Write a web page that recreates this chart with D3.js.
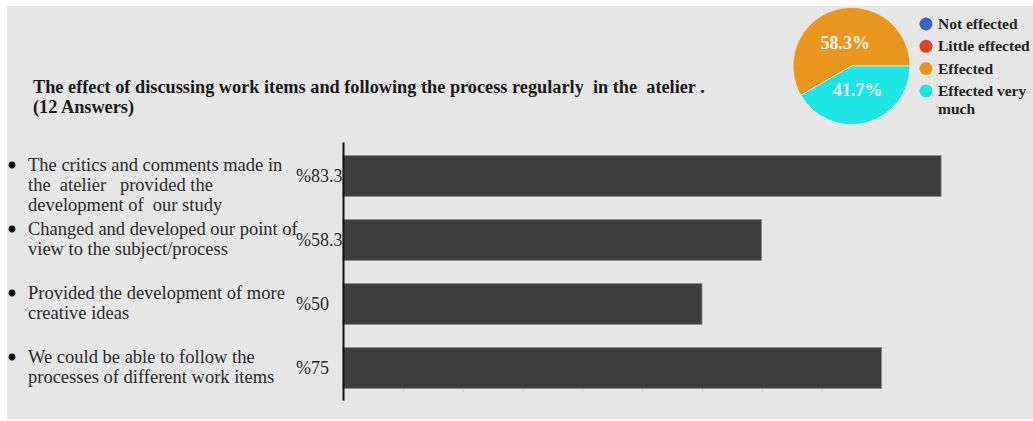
<!DOCTYPE html>
<html>
<head>
<meta charset="utf-8">
<script src="https://cdn.jsdelivr.net/npm/d3@7"></script>
<style>
  html, body { margin: 0; padding: 0; background: #ffffff; }
  svg { display: block; }
</style>
</head>
<body>
<svg id="chart" width="1033" height="421"></svg>
<script>
// ---- data ----
const titleLines = [
  "The effect of discussing work items and following the process regularly  in the  atelier .",
  "(12 Answers)"
];
const categories = [
  ["The critics and comments made in", "the  atelier   provided the", "development of  our study"],
  ["Changed and developed our point of", "view to the subject/process"],
  ["Provided the development of more", "creative ideas"],
  ["We could be able to follow the", "processes of different work items"]
];
const values = [83.3, 58.3, 50, 75];
const valueLabels = ["%83.3", "%58.3", "%50", "%75"];
const answerCount = 12;

const pieCategories = ["Not effected", "Little effected", "Effected", "Effected very much"];
const pieLegendLines = [["Not effected"], ["Little effected"], ["Effected"], ["Effected very", "much"]];
const pieValues = [0, 0, 7, 5];
const pieColors = ["#3d62c2", "#d4472a", "#e8961e", "#1fe5e5"];

// ---- drawing ----
const svg = d3.select("#chart");
const serif = "'Liberation Serif', 'Times New Roman', serif";

svg.append("rect").attr("x", 7).attr("y", 6).attr("width", 1026).attr("height", 413).attr("fill", "#e6e6e6");

// title
svg.append("g").selectAll("text").data(titleLines).join("text")
  .attr("x", 33).attr("y", (d, i) => 93 + i * 20)
  .attr("font-family", serif).attr("font-size", 18.3).attr("font-weight", "bold")
  .attr("fill", "#1a1a1a").style("white-space", "pre")
  .text(d => d);

// scales
const x = d3.scaleLinear().domain([0, 100]).range([343, 1061]);
const y = d3.scaleBand().domain(d3.range(categories.length)).range([144, 400])
  .paddingInner(0.36).paddingOuter(0.18);

// faint ticks at each answer step
const tickVals = d3.range(1, answerCount + 1).map(i => i * 100 / answerCount).filter(v => x(v) < 900);
svg.append("g").attr("transform", "translate(0,388)")
  .call(d3.axisBottom(x).tickValues(tickVals).tickSize(4).tickFormat(""))
  .call(g => g.select(".domain").remove())
  .call(g => g.selectAll("line").attr("stroke", "#d2d2d2"));

// bars
svg.append("g").selectAll("rect").data(values).join("rect")
  .attr("x", x(0)).attr("y", (d, i) => y(i))
  .attr("width", d => x(d) - x(0)).attr("height", y.bandwidth())
  .attr("fill", "#3d3d3d").attr("stroke", "#8c8c8c").attr("stroke-width", 0.8);

// axis line
svg.append("g").attr("transform", `translate(${x(0)},0)`)
  .call(d3.axisLeft(d3.scaleLinear().range([142, 400])).ticks(0).tickSize(0))
  .call(g => g.selectAll("text").remove())
  .call(g => g.select(".domain").attr("stroke", "#111").attr("stroke-width", 2));

// value labels
svg.append("g").selectAll("text").data(valueLabels).join("text")
  .attr("x", 296).attr("y", (d, i) => y(i) + y.bandwidth() / 2)
  .attr("dy", "0.35em")
  .attr("font-family", serif).attr("font-size", 18).attr("fill", "#2a2a2a")
  .text(d => d);

// category labels with bullets
const catG = svg.append("g").selectAll("g").data(categories).join("g")
  .attr("transform", (d, i) => `translate(0,${y(i) + y.bandwidth() / 2 - 5})`);
catG.append("circle").attr("cx", 12).attr("cy", -6).attr("r", 3.4).attr("fill", "#111");
catG.selectAll("text").data(d => d).join("text")
  .attr("x", 28).attr("y", (d, i) => i * 20)
  .attr("font-family", serif).attr("font-size", 18.5).attr("fill", "#2a2a2a")
  .style("white-space", "pre")
  .text(d => d);

// pie
const cx = 851.5, cy = 66, r = 58.5;
const pie = d3.pie().sort(null).startAngle(-2 * Math.PI / 3).endAngle(4 * Math.PI / 3);
const arcs = pie(pieValues);
const arc = d3.arc().innerRadius(0).outerRadius(r);
const labelArc = d3.arc().innerRadius(r * 0.42).outerRadius(r * 0.42);
const pieG = svg.append("g").attr("transform", `translate(${cx},${cy})`);
pieG.selectAll("path").data(arcs.filter(a => a.value > 0)).join("path")
  .attr("d", arc).attr("fill", d => pieColors[d.index])
  .attr("stroke", "#f2f2f2").attr("stroke-width", 0.7);
const total = d3.sum(pieValues);
pieG.selectAll("text").data(arcs.filter(a => a.value > 0)).join("text")
  .attr("transform", d => `translate(${labelArc.centroid(d)})`)
  .attr("text-anchor", "middle").attr("dy", "0.35em")
  .attr("font-family", serif).attr("font-size", 18).attr("font-weight", "bold")
  .attr("fill", "#f4f4f4")
  .text(d => (d.value / total * 100).toFixed(1) + "%");

// legend
const leg = svg.append("g").selectAll("g").data(pieLegendLines).join("g")
  .attr("transform", (d, i) => `translate(926,${24 + i * 22.3})`);
leg.append("circle").attr("r", 6.5).attr("fill", (d, i) => pieColors[i]);
leg.selectAll("text").data(d => d).join("text")
  .attr("x", 12).attr("y", (d, i) => 5 + i * 18)
  .attr("font-family", serif).attr("font-size", 15.5).attr("font-weight", "bold")
  .attr("fill", "#222")
  .text(d => d);
</script>
</body>
</html>
